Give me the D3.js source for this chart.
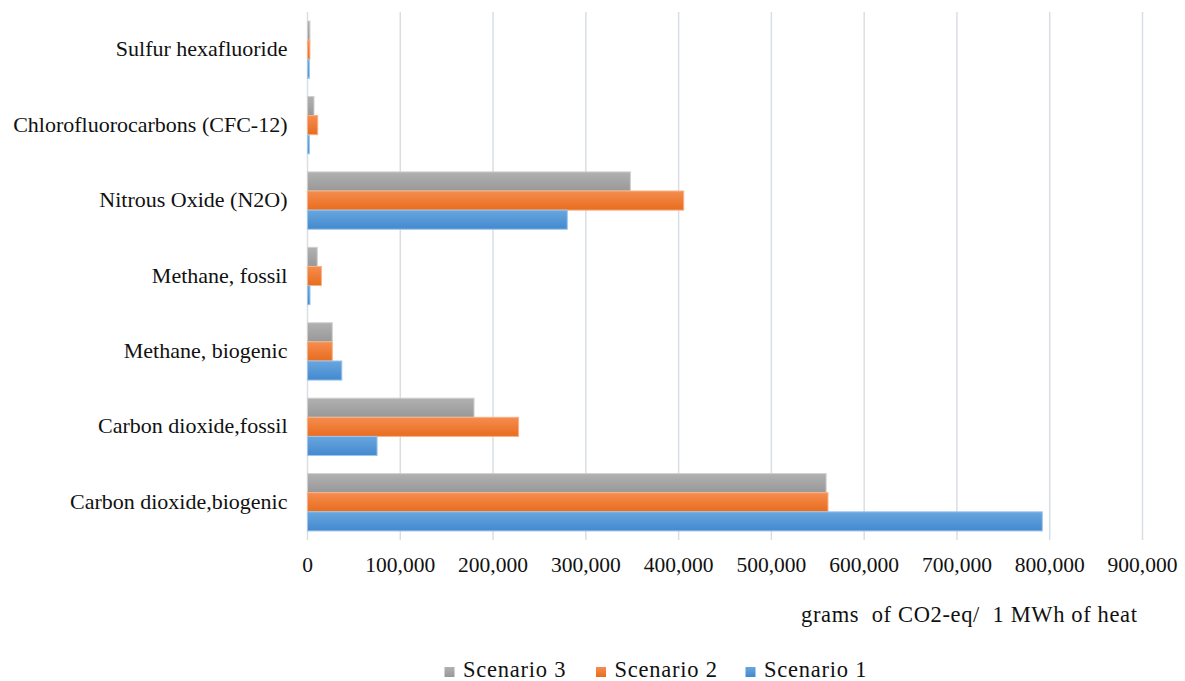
<!DOCTYPE html>
<html>
<head>
<meta charset="utf-8">
<script src="https://cdn.jsdelivr.net/npm/d3@7"></script>
<style>
  html, body { margin: 0; padding: 0; background: #fff; }
  svg { display: block; }
  text { font-family: "Liberation Serif", "Times New Roman", serif; fill: #111; }
</style>
</head>
<body>
<svg id="chart" width="1185" height="681"></svg>
<script>
// Emission categories, listed bottom to top
const categories = [
  "Carbon dioxide,biogenic",
  "Carbon dioxide,fossil",
  "Methane, biogenic",
  "Methane, fossil",
  "Nitrous Oxide (N2O)",
  "Chlorofluorocarbons (CFC-12)",
  "Sulfur hexafluoride"
];

// grams of CO2-eq per 1 MWh of heat
const scenario1 = [792000, 75000, 37000, 2700, 280000, 2000, 2000];
const scenario2 = [561000, 227500, 26700, 15000, 405500, 11000, 2600];
const scenario3 = [559000, 179500, 26700, 10500, 348000, 7000, 2600];

const seriesNames = ["Scenario 3", "Scenario 2", "Scenario 1"];
const tickValues = [0, 100000, 200000, 300000, 400000, 500000, 600000, 700000, 800000, 900000];
const axisTitle = "grams  of CO2-eq/  1 MWh of heat";

const series = [
  { name: "Scenario 3", values: scenario3, top: "#b1b1b1", bottom: "#989898", edge: "#cfcfcf", key: "s3" },
  { name: "Scenario 2", values: scenario2, top: "#f58d4f", bottom: "#e86c1e", edge: "#f7b186", key: "s2" },
  { name: "Scenario 1", values: scenario1, top: "#68a6de", bottom: "#4489cf", edge: "#9cc5ec", key: "s1" }
];

const svg = d3.select("#chart");
const margin = { left: 307.5, right: 42.5, top: 12, bottom: 141 };
const W = 1185, H = 681;

const x = d3.scaleLinear().domain([0, 900000]).range([margin.left, W - margin.right]);
const y = d3.scaleBand().domain(categories.slice().reverse())
  .range([margin.top, H - margin.bottom]).paddingInner(0.24).paddingOuter(0.12);
const inner = d3.scaleBand().domain(seriesNames).range([0, y.bandwidth()]);

// Gradients for the bar fills
const defs = svg.append("defs");
series.forEach(s => {
  const g = defs.append("linearGradient").attr("id", "grad-" + s.key)
    .attr("x1", 0).attr("y1", 0).attr("x2", 0).attr("y2", 1);
  g.append("stop").attr("offset", "0%").attr("stop-color", s.top);
  g.append("stop").attr("offset", "100%").attr("stop-color", s.bottom);
});

// Vertical gridlines
svg.append("g").selectAll("line").data(tickValues).join("line")
  .attr("x1", d => x(d)).attr("x2", d => x(d))
  .attr("y1", margin.top).attr("y2", H - margin.bottom)
  .attr("stroke", "#d9dee6").attr("stroke-width", 1.5);

// Bars
const groups = svg.append("g").selectAll("g").data(categories).join("g")
  .attr("transform", d => `translate(0,${y(d)})`);

series.forEach(s => {
  groups.append("rect")
    .attr("x", x(0))
    .attr("y", inner(s.name))
    .attr("width", (d, i) => x(s.values[i]) - x(0))
    .attr("height", inner.bandwidth())
    .attr("fill", `url(#grad-${s.key})`)
    .attr("stroke", s.edge)
    .attr("stroke-width", 1);
});

// Category labels
svg.append("g").selectAll("text").data(categories).join("text")
  .attr("x", margin.left - 20)
  .attr("y", d => y(d) + y.bandwidth() / 2)
  .attr("dy", "0.3em")
  .attr("text-anchor", "end")
  .style("font-size", "22px")
  .text(d => d);

// Value axis tick labels
const fmt = d3.format(",");
svg.append("g").selectAll("text").data(tickValues).join("text")
  .attr("x", d => x(d))
  .attr("y", 572)
  .attr("text-anchor", "middle")
  .style("font-size", "21.5px")
  .text(d => fmt(d));

// Axis title
svg.append("text")
  .attr("x", 801).attr("y", 622)
  .attr("xml:space", "preserve")
  .attr("textLength", 336)
  .attr("lengthAdjust", "spacing")
  .style("font-size", "22.5px")
  .text(axisTitle);

// Legend
const legendX = [444.5, 596, 745.5];
const legend = svg.append("g").selectAll("g").data(series).join("g")
  .attr("transform", (d, i) => `translate(${legendX[i]},667)`);
legend.append("rect").attr("width", 10).attr("height", 10)
  .attr("fill", d => `url(#grad-${d.key})`);
legend.append("text").attr("x", 18.5).attr("y", 10)
  .attr("textLength", 102.5)
  .attr("lengthAdjust", "spacing")
  .style("font-size", "22.5px")
  .text(d => d.name);
</script>
</body>
</html>
